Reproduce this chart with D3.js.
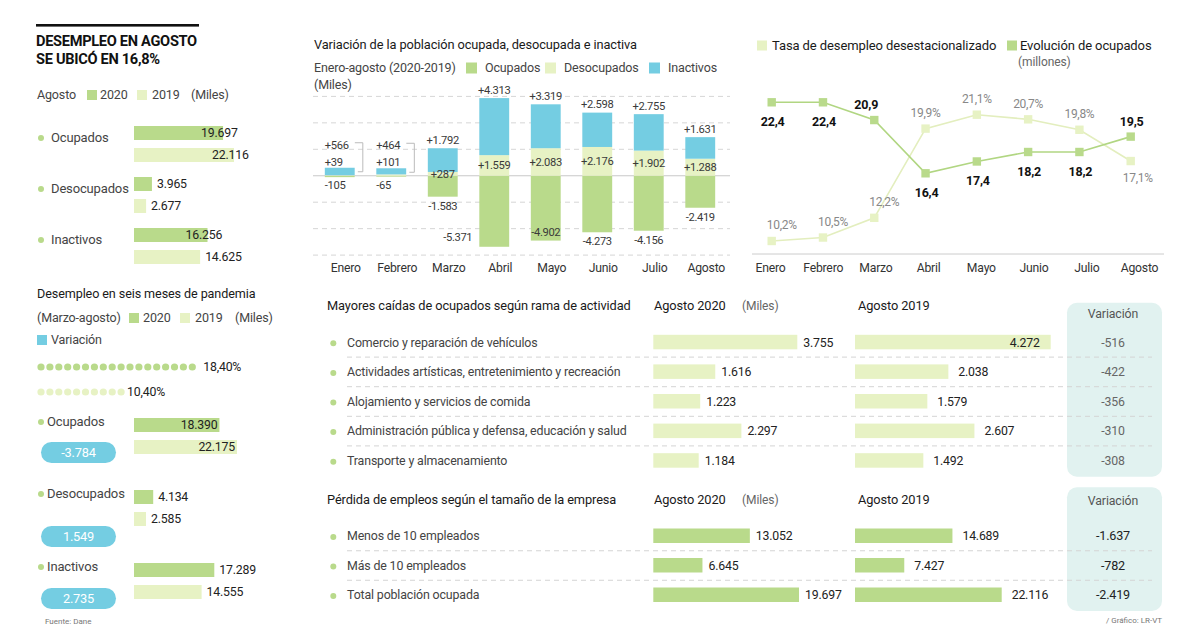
<!DOCTYPE html>
<html><head><meta charset="utf-8">
<script src="https://cdn.jsdelivr.net/npm/d3@7"></script>
<style>
html,body{margin:0;padding:0;background:#fff;}
svg{display:block;font-family:"Roboto","Noto Sans",sans-serif;}
</style></head><body>
<svg id="c" width="1200" height="643"></svg>
<script>
// ---------- DATA ----------
const months = ["Enero","Febrero","Marzo","Abril","Mayo","Junio","Julio","Agosto"];
const varOcupados    = [-105, -65, -1583, -5371, -4902, -4273, -4156, -2419];
const varDesocupados = [39, 101, 287, 1559, 2083, 2176, 1902, 1288];
const varInactivos   = [566, 464, 1792, 4313, 3319, 2598, 2755, 1631];
const tasaDesempleo    = [10.2, 10.5, 12.2, 19.9, 21.1, 20.7, 19.8, 17.1];
const ocupadosMillones = [22.4, 22.4, 20.9, 16.4, 17.4, 18.2, 18.2, 19.5];

const grupos = ["Ocupados","Desocupados","Inactivos"];
const agosto2020 = [19697, 3965, 16256];
const agosto2019 = [22116, 2677, 14625];
const pandemia2020 = [18390, 4134, 17289];
const pandemia2019 = [22175, 2585, 14555];
const pandemiaVar  = [-3784, 1549, 2735];
const tasaPandemia = [18.4, 10.4];

const ramas = ["Comercio y reparación de vehículos","Actividades artísticas, entretenimiento y recreación","Alojamiento y servicios de comida","Administración pública y defensa, educación y salud","Transporte y almacenamiento"];
const ramas2020 = [3755, 1616, 1223, 2297, 1184];
const ramas2019 = [4272, 2038, 1579, 2607, 1492];
const ramasVar  = [-516, -422, -356, -310, -308];

const tamanos = ["Menos de 10 empleados","Más de 10 empleados","Total población ocupada"];
const tamano2020 = [13052, 6645, 19697];
const tamano2019 = [14689, 7427, 22116];
const tamanoVar  = [-1637, -782, -2419];

// ---------- STYLE ----------
const C20 = "#b9da8b", C19 = "#e7f2c4", CBLUE = "#74cde2", CPANEL = "#e1f2f0";
const loc = d3.formatLocale({decimal:",", thousands:".", grouping:[3], currency:["",""], minus:"-"});
const fInt = loc.format(",d"), fSig = loc.format("+,d"), f1 = loc.format(".1f"), f2 = loc.format(".2f");

const svg = d3.select("#c");
function T(p, x, y, s, o = {}) {
  const t = p.append("text").attr("x", x).attr("y", y).attr("dy", "0.35em")
    .attr("font-size", o.size || 12).attr("fill", o.fill || "#444")
    .attr("font-weight", o.weight || 400).attr("text-anchor", o.anchor || "start").text(s);
  if (o.ls != null) t.attr("letter-spacing", o.ls);
  return t;
}
function sq(p, x, y, w, h, c) { return p.append("rect").attr("x", x).attr("y", y).attr("width", w).attr("height", h).attr("fill", c); }

const body = {size:12.5, fill:"#444", ls:-0.15};
const head = {size:12.8, fill:"#1a1a1a", ls:-0.1};
const num = {size:12.3, fill:"#222", ls:-0.2};

// ---------- LEFT: AGOSTO ----------
const L = svg.append("g");
sq(L, 36, 24, 163, 2.6, "#111");
T(L, 36, 41.3, "DESEMPLEO EN AGOSTO", {size:14.6, weight:700, fill:"#111", ls:-0.3});
T(L, 36, 58.6, "SE UBICÓ EN 16,8%", {size:14.6, weight:700, fill:"#111", ls:-0.3});
T(L, 37, 95, "Agosto", body);
sq(L, 87, 90, 10, 10, C20); T(L, 100, 95, "2020", body);
sq(L, 137, 90, 10, 10, C19); T(L, 152, 95, "2019", body);
T(L, 191, 95, "(Miles)", body);

const xa = d3.scaleLinear().domain([0, d3.max(agosto2019.concat(agosto2020))]).range([0, 100]);
grupos.forEach((g, i) => {
  const top = 126 + 51 * i;
  L.append("circle").attr("cx", 41).attr("cy", top + 12).attr("r", 3).attr("fill", C20);
  T(L, 51, top + 11, g, {...body, size:13});
  [[agosto2020[i], C20, top], [agosto2019[i], C19, top + 22]].forEach(([v, c, y]) => {
    const w = xa(v);
    sq(L, 134, y, w, 14, c);
    const big = v > 15000;
    T(L, big ? 134 + w - 22 : 134 + w + 5, y + 7, fInt(v), num);
  });
});

// ---------- LEFT: PANDEMIA ----------
T(L, 37, 294, "Desempleo en seis meses de pandemia", {...head, size:12.6});
T(L, 37, 318, "(Marzo-agosto)", body);
sq(L, 129, 313, 10, 10, C20); T(L, 143, 318, "2020", body);
sq(L, 180, 313, 10, 10, C19); T(L, 195, 318, "2019", body);
T(L, 235, 318, "(Miles)", body);
sq(L, 37, 335, 10, 10, CBLUE); T(L, 51, 340, "Variación", body);

[[tasaPandemia[0], C20, 367], [tasaPandemia[1], C19, 392]].forEach(([v, c, y]) => {
  const n = Math.floor(v);
  L.selectAll(null).data(d3.range(n)).enter().append("circle")
    .attr("cx", d => 41 + d * 8.9).attr("cy", y).attr("r", 3.6).attr("fill", c);
  T(L, 41 + (n - 1) * 8.9 + (n > 12 ? 11 : 6), y, f2(v) + "%", num);
});

const xpd = d3.scaleLinear().domain([0, d3.max(pandemia2019.concat(pandemia2020))]).range([0, 103]);
const pTops = [418, 490, 563], pillOff = [24, 36, 25];
grupos.forEach((g, i) => {
  const top = pTops[i];
  L.append("circle").attr("cx", 41).attr("cy", top + 4).attr("r", 3).attr("fill", C20);
  T(L, 47, top + 3, g, {...body, size:13});
  [[pandemia2020[i], C20, top], [pandemia2019[i], C19, top + 22]].forEach(([v, c, y]) => {
    const w = xpd(v);
    sq(L, 134, y, w, 14, c);
    if (v > 18000) T(L, 134 + w - 2, y + 7, fInt(v), {...num, anchor:"end"});
    else T(L, 134 + w + 5, y + 7, fInt(v), num);
  });
  const py = top + pillOff[i];
  L.append("rect").attr("x", 41).attr("y", py).attr("width", 75).attr("height", 21).attr("rx", 10.5).attr("fill", CBLUE);
  T(L, 78.5, py + 10.5, fInt(pandemiaVar[i]), {size:12.8, fill:"#fff", anchor:"middle", ls:-0.2});
});
T(L, 45, 621, "Fuente: Dane", {size:8, fill:"#777"});

// ---------- WATERFALL ----------
const W = svg.append("g");
T(W, 314, 45, "Variación de la población ocupada, desocupada e inactiva", head);
T(W, 314, 68, "Enero-agosto (2020-2019)", body);
T(W, 314, 85, "(Miles)", body);
const keys = ["Ocupados","Desocupados","Inactivos"];
const colorOf = {Ocupados:C20, Desocupados:C19, Inactivos:CBLUE};
[466, 545, 649].forEach((x, k) => { sq(W, x, 62.5, 11, 11, colorOf[keys[k]]); T(W, x + 19, 68, keys[k], body); });

const xb = d3.scaleBand().domain(months).range([314, 726]).paddingInner(0.42).paddingOuter(0.21);
const yw = d3.scaleLinear().domain([-6000, 6000]).range([255.1, 96.4]);
W.selectAll(null).data(yw.ticks(6)).enter().append("line")
  .attr("x1", 313).attr("x2", 730).attr("y1", d => yw(d)).attr("y2", d => yw(d))
  .attr("stroke", d => d === 0 ? "#c8c8c8" : "#d6d6d6").attr("stroke-width", 1)
  .attr("stroke-dasharray", d => d === 0 ? null : "5,4");

const rows = months.map((m, i) => ({month:m, Ocupados:varOcupados[i], Desocupados:varDesocupados[i], Inactivos:varInactivos[i]}));
const series = d3.stack().keys(keys).offset(d3.stackOffsetDiverging)(rows);
W.selectAll("g.s").data(series).enter().append("g").attr("fill", s => colorOf[s.key])
  .selectAll("rect").data(s => s).enter().append("rect")
  .attr("x", d => xb(d.data.month)).attr("width", xb.bandwidth())
  .attr("y", d => yw(d[1])).attr("height", d => yw(d[0]) - yw(d[1]));

const lab = {size:11.2, fill:"#3a3a3a", ls:-0.35};
months.forEach((m, i) => {
  const x0 = xb(m), cx = x0 + xb.bandwidth() / 2;
  const o = varOcupados[i], d = varDesocupados[i], n = varInactivos[i];
  const top = yw(d + n), bot = yw(o);
  if (i < 2) {
    T(W, x0, top - 23, fSig(n), lab);
    T(W, x0, top - 6, fSig(d), lab);
    T(W, x0, bot + 8, fInt(o), lab);
    W.append("path").attr("d", `M${x0+30},${top-25}H${x0+38}V${top+4}H${x0+33}`)
      .attr("fill", "none").attr("stroke", "#bbb").attr("stroke-width", 1);
  } else {
    T(W, cx, top - 8.5, fSig(n), {...lab, anchor:"middle"});
    T(W, cx, (yw(0) + yw(d)) / 2, fSig(d), {...lab, anchor:"middle"});
    if (i === 3) T(W, x0 - 7, bot - 10, fInt(o), {...lab, anchor:"end"});
    else if (i === 4) T(W, cx, bot - 8, fInt(o), {...lab, anchor:"middle"});
    else T(W, cx, bot + 9, fInt(o), {...lab, anchor:"middle"});
  }
});
const monthStyle = (sel) => {
  sel.select(".domain").remove();
  sel.attr("font-family", null).attr("font-size", null);
  sel.selectAll("text").attr("y", 0).attr("dy", "0.35em").attr("font-size", 12.2)
    .attr("letter-spacing", -0.2).attr("fill", "#333");
};
W.append("g").attr("transform", "translate(6,268)").call(d3.axisBottom(xb).tickSize(0)).call(monthStyle);

// ---------- LINE CHART ----------
const P = svg.append("g");
sq(P, 757, 40.5, 10, 10, C19); T(P, 772, 45, "Tasa de desempleo desestacionalizado", {...head, size:13});
sq(P, 1007, 40.5, 10, 10, C20); T(P, 1020, 45, "Evolución de ocupados", {...head, size:13});
T(P, 1018, 62, "(millones)", {size:12, fill:"#666", ls:-0.1});

const xp = d3.scalePoint().domain(months).range([771.7, 1130.7]);
const yOc = d3.scaleLinear().domain(d3.extent(ocupadosMillones)).range([173.3, 102.3]);
const yTa = d3.scaleLinear().domain(d3.extent(tasaDesempleo)).range([241, 114.7]);
P.append("line").attr("x1", 752).attr("x2", 1164).attr("y1", 254).attr("y2", 254).attr("stroke", "#ccc");

const lineT = d3.line().x((d, i) => xp(months[i])).y(d => yTa(d));
const lineO = d3.line().x((d, i) => xp(months[i])).y(d => yOc(d));
P.append("path").attr("d", lineT(tasaDesempleo)).attr("fill", "none").attr("stroke", "#e3eebe").attr("stroke-width", 1.6);
P.append("path").attr("d", lineO(ocupadosMillones)).attr("fill", "none").attr("stroke", "#b1d682").attr("stroke-width", 1.6);
P.selectAll(null).data(tasaDesempleo).enter().append("rect")
  .attr("x", (d, i) => xp(months[i]) - 4.2).attr("y", d => yTa(d) - 4.2).attr("width", 8.4).attr("height", 8.4).attr("fill", C19);
P.selectAll(null).data(ocupadosMillones).enter().append("rect")
  .attr("x", (d, i) => xp(months[i]) - 4.2).attr("y", d => yOc(d) - 4.2).attr("width", 8.4).attr("height", 8.4).attr("fill", C20);

tasaDesempleo.forEach((v, i) => {
  const x = xp(months[i]) + (i < 3 ? 10 : (i === 7 ? 7 : 0));
  const y = yTa(v) + (i === 7 ? 17 : -16);
  T(P, x, y, f1(v) + "%", {size:12, fill:"#888", anchor:"middle", ls:-0.3});
});
ocupadosMillones.forEach((v, i) => {
  const above = (i === 2 || i === 7);
  const x = xp(months[i]) + (i === 2 ? -8 : 1);
  const y = yOc(v) + (above ? -15 : 19.5);
  T(P, x, y, f1(v), {size:12.5, fill:"#111", weight:700, anchor:"middle", ls:-0.2});
});
const xpl = d3.scalePoint().domain(months).range([770, 1139]);
P.append("g").attr("transform", "translate(0,268)").call(d3.axisBottom(xpl).tickSize(0)).call(monthStyle);

// ---------- TABLES ----------
const TB = svg.append("g");
function table(title, y0, labels, v20, v19, vv, range20, range19, c20, c19, varStyle, rowY, step, panelTop, varLabelY) {
  T(TB, 327, y0, title, head);
  T(TB, 654, y0, "Agosto 2020", head);
  T(TB, 742, y0, "(Miles)", {size:12, fill:"#666", ls:-0.1});
  T(TB, 858, y0, "Agosto 2019", head);
  const n = labels.length;
  const pBot = rowY + step * (n - 1) + 16;
  TB.append("rect").attr("x", 1067).attr("y", panelTop).attr("width", 95).attr("height", pBot - panelTop).attr("rx", 10).attr("fill", CPANEL);
  T(TB, 1113, varLabelY, "Variación", {size:12.3, fill:"#555", anchor:"middle", ls:-0.1});
  const s20 = d3.scaleLinear().domain([0, d3.max(v20)]).range([0, range20]);
  const s19 = d3.scaleLinear().domain([0, d3.max(v19)]).range([0, range19]);
  labels.forEach((lb, i) => {
    const y = rowY + step * i;
    if (i > 0) TB.append("line").attr("x1", 347).attr("x2", 1152).attr("y1", y - step / 2).attr("y2", y - step / 2)
      .attr("stroke", "#d4d4d4").attr("stroke-dasharray", "5,4");
    TB.append("circle").attr("cx", 333.3).attr("cy", y + 1).attr("r", 3).attr("fill", C20);
    T(TB, 347, y, lb, {size:12.4, fill:"#444", ls:-0.15});
    const w20 = s20(v20[i]), w19 = s19(v19[i]);
    sq(TB, 653.3, y - 7.5, w20, 14.5, c20);
    T(TB, 653.3 + w20 + 6, y, fInt(v20[i]), num);
    sq(TB, 855, y - 7.5, w19, 14.5, c19);
    if (w19 > 180) T(TB, 855 + w19 - 11, y, fInt(v19[i]), {...num, anchor:"end"});
    else T(TB, 855 + w19 + 10, y, fInt(v19[i]), num);
    T(TB, 1113, y, fInt(vv[i]), {...varStyle, anchor:"middle"});
  });
}
table("Mayores caídas de ocupados según rama de actividad", 305.7, ramas, ramas2020, ramas2019, ramasVar,
  144, 195.7, C19, C19, {size:12.3, fill:"#666", ls:-0.2}, 342.3, 29.6, 302.7, 314);
table("Pérdida de empleos según el tamaño de la empresa", 500, tamanos, tamano2020, tamano2019, tamanoVar,
  145.7, 146.7, C20, C20, {size:12.6, fill:"#222", ls:-0.2}, 536, 29.5, 487.3, 500.7);
T(TB, 1162, 620, "/ Gráfico: LR-VT", {size:8, fill:"#777", anchor:"end"});
</script></body></html>
